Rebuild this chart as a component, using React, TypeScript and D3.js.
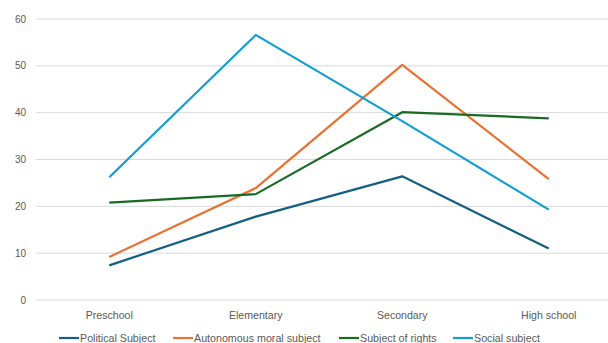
import React from "react";
import * as d3 from "d3";

const categories = ["Preschool", "Elementary", "Secondary", "High school"];
const seriesNames = ["Political Subject", "Autonomous moral subject", "Subject of rights", "Social subject"];
const political = [7.4, 17.8, 26.4, 11.0];
const autonomous = [9.2, 23.9, 50.2, 25.8];
const rights = [20.8, 22.6, 40.1, 38.8];
const social = [26.2, 56.6, 38.2, 19.3];
const yTicks = [0, 10, 20, 30, 40, 50, 60];
const colors = ["#156082", "#E97132", "#196B24", "#0F9ED5"];

const W = 608;
const H = 343;
const font = "'Liberation Sans', Arial, sans-serif";

export default function App() {
  const allSeries = [political, autonomous, rights, social];
  const x = d3.scaleBand<string>().domain(categories).range([36, 622]);
  const y = d3.scaleLinear().domain([0, 60]).range([300, 19]);
  const cx = (c: string) => (x(c) as number) + x.bandwidth() / 2;
  const line = d3
    .line<number>()
    .x((_, i) => cx(categories[i]))
    .y((d) => y(d));
  const legendX = [59, 173, 339, 453];

  return (
    <svg
      width={W}
      height={H}
      style={{ position: "absolute", left: 0, top: 0, background: "#fff" }}
    >
      {yTicks.map((t) => (
        <g key={t}>
          <line x1={36} x2={W} y1={y(t)} y2={y(t)} stroke="#d9d9d9" strokeWidth={1} />
          <text
            x={26}
            y={y(t)}
            dy="0.35em"
            textAnchor="end"
            fontFamily={font}
            fontSize={10}
            fill="#595959"
          >
            {t}
          </text>
        </g>
      ))}
      {categories.map((c) => (
        <text
          key={c}
          x={cx(c)}
          y={319}
          textAnchor="middle"
          fontFamily={font}
          fontSize={10.6}
          fill="#595959"
        >
          {c}
        </text>
      ))}
      {allSeries.map((s, i) => (
        <path
          key={i}
          d={line(s) as string}
          fill="none"
          stroke={colors[i]}
          strokeWidth={2.2}
          strokeLinejoin="round"
        />
      ))}
      {seriesNames.map((n, i) => (
        <g key={n} transform={`translate(${legendX[i]},338)`}>
          <line x1={0} x2={20} y1={0} y2={0} stroke={colors[i]} strokeWidth={2.2} />
          <text x={21} y={0} dy="0.35em" fontFamily={font} fontSize={10.7} fill="#595959">
            {n}
          </text>
        </g>
      ))}
    </svg>
  );
}
